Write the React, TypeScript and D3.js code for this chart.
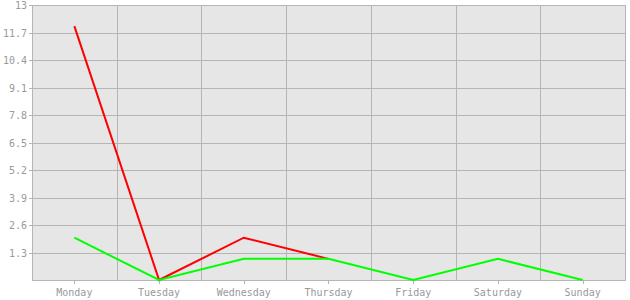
import React from "react";
import * as d3 from "d3";

const categories = ["Monday", "Tuesday", "Wednesday", "Thursday", "Friday", "Saturday", "Sunday"];
const redValues = [12, 0, 2, 1];
const greenValues = [2, 0, 1, 1, 0, 1, 0];
const yTicks = [1.3, 2.6, 3.9, 5.2, 6.5, 7.8, 9.1, 10.4, 11.7, 13];

const W = 630, H = 300;
const left = 32, right = 625, top = 5, bottom = 280;

export default function App() {
  const x = d3.scaleBand<string>().domain(categories).range([left, right]);
  const y = d3.scaleLinear().domain([0, 13]).range([bottom, top]);
  const cx = (c: string) => (x(c) as number) + x.bandwidth() / 2;
  const line = d3.line<number>().x((_, i) => cx(categories[i])).y((v) => y(v));
  const font = "'DejaVu Sans Mono', monospace";
  return (
    <svg width={W} height={H} style={{ position: "absolute", left: 0, top: 0 }}>
      <rect x={left} y={top} width={right - left} height={bottom - top} fill="#e6e6e6" />
      {yTicks.map((t) => (
        <line key={t} x1={left - 3} x2={right} y1={Math.round(y(t)) + 0.5} y2={Math.round(y(t)) + 0.5} stroke="#b5b5b5" />
      ))}
      {categories.slice(1).map((c) => (
        <line key={c} x1={Math.round(x(c) as number) + 0.5} x2={Math.round(x(c) as number) + 0.5} y1={top} y2={bottom} stroke="#b5b5b5" />
      ))}
      <line x1={right + 0.5} x2={right + 0.5} y1={top} y2={bottom} stroke="#b5b5b5" />
      <line x1={left + 0.5} x2={left + 0.5} y1={top} y2={bottom + 0.5} stroke="#b5b5b5" />
      <line x1={left} x2={right + 1} y1={bottom + 0.5} y2={bottom + 0.5} stroke="#b5b5b5" />
      {categories.map((c) => (
        <g key={c}>
          <line x1={Math.round(cx(c)) + 0.5} x2={Math.round(cx(c)) + 0.5} y1={bottom} y2={bottom + 4} stroke="#b5b5b5" />
          <text x={cx(c)} y={296} textAnchor="middle" fontFamily={font} fontSize={10} fill="#999">{c}</text>
        </g>
      ))}
      {yTicks.map((t) => (
        <text key={t} x={27} y={y(t) + 4} textAnchor="end" fontFamily={font} fontSize={10} fill="#999">{String(t)}</text>
      ))}
      <path d={line(redValues) as string} fill="none" stroke="#ff0000" strokeWidth={2} />
      <path d={line(greenValues) as string} fill="none" stroke="#00ff00" strokeWidth={2} />
    </svg>
  );
}
